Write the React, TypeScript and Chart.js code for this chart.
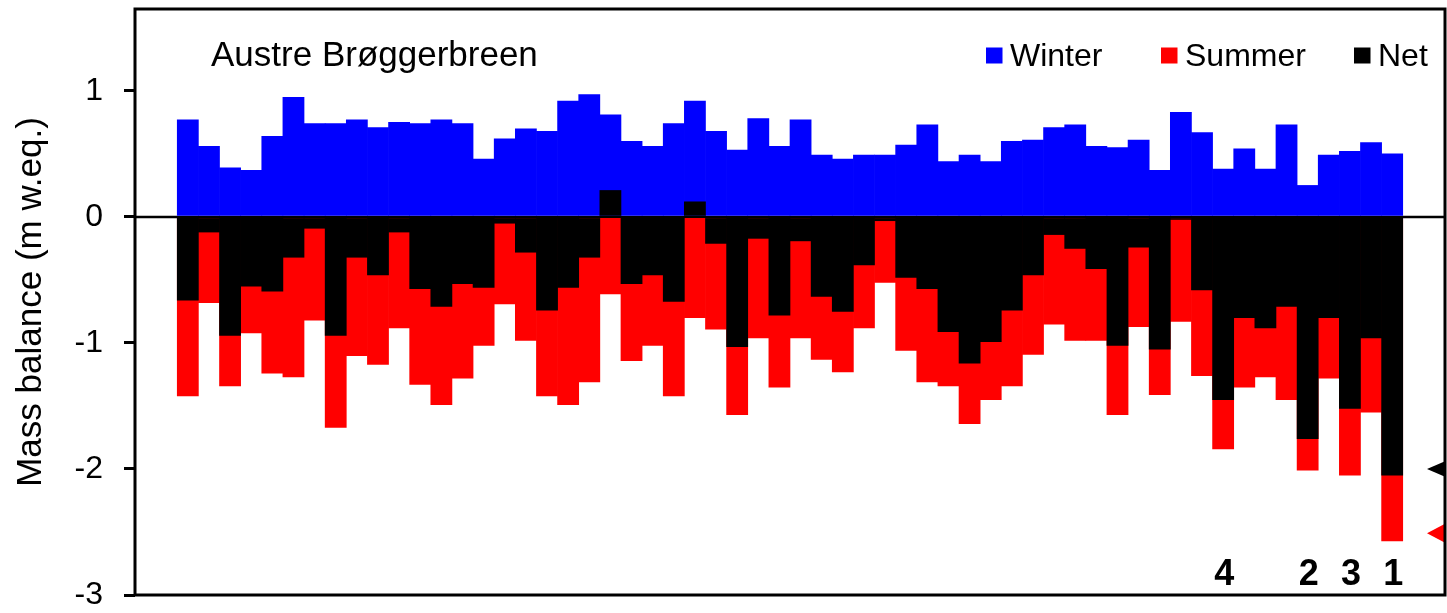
import React, { useEffect, useRef } from "react";
import { Chart, registerables } from "chart.js";

Chart.register(...registerables);

const years = [
  1967, 1968, 1969, 1970, 1971, 1972, 1973, 1974, 1975, 1976,
  1977, 1978, 1979, 1980, 1981, 1982, 1983, 1984, 1985, 1986,
  1987, 1988, 1989, 1990, 1991, 1992, 1993, 1994, 1995, 1996,
  1997, 1998, 1999, 2000, 2001, 2002, 2003, 2004, 2005, 2006,
  2007, 2008, 2009, 2010, 2011, 2012, 2013, 2014, 2015, 2016,
  2017, 2018, 2019, 2020, 2021, 2022, 2023, 2024,
];

const winter = [
  0.77, 0.56, 0.39, 0.37, 0.64, 0.95, 0.74, 0.74, 0.77, 0.71,
  0.75, 0.74, 0.77, 0.74, 0.46, 0.62, 0.70, 0.68, 0.92, 0.97,
  0.81, 0.60, 0.56, 0.74, 0.92, 0.68, 0.53, 0.78, 0.56, 0.77,
  0.49, 0.46, 0.49, 0.49, 0.57, 0.73, 0.44, 0.49, 0.44, 0.60,
  0.61, 0.71, 0.73, 0.56, 0.55, 0.61, 0.37, 0.83, 0.67, 0.38,
  0.54, 0.38, 0.73, 0.25, 0.49, 0.52, 0.59, 0.50,
];

const summer = [
  -1.42, -0.68, -1.34, -0.92, -1.24, -1.27, -0.82, -1.67, -1.10, -1.17,
  -0.88, -1.33, -1.49, -1.28, -1.02, -0.69, -0.98, -1.42, -1.49, -1.31,
  -0.61, -1.14, -1.02, -1.42, -0.80, -0.89, -1.57, -0.96, -1.35, -0.96,
  -1.13, -1.23, -0.88, -0.52, -1.06, -1.31, -1.34, -1.64, -1.45, -1.34,
  -1.09, -0.85, -0.98, -0.98, -1.57, -0.87, -1.41, -0.83, -1.26, -1.84,
  -1.35, -1.27, -1.45, -2.01, -1.28, -2.05, -1.55, -2.57,
];

const net = [
  -0.66, -0.12, -0.94, -0.55, -0.59, -0.32, -0.09, -0.94, -0.32, -0.46,
  -0.12, -0.57, -0.71, -0.53, -0.56, -0.05, -0.28, -0.74, -0.56, -0.32,
  0.21, -0.53, -0.46, -0.67, 0.12, -0.21, -1.03, -0.17, -0.78, -0.19,
  -0.63, -0.75, -0.38, -0.03, -0.48, -0.57, -0.91, -1.16, -0.99, -0.74,
  -0.46, -0.14, -0.25, -0.41, -1.02, -0.24, -1.05, -0.02, -0.58, -1.45,
  -0.80, -0.88, -0.71, -1.76, -0.80, -1.52, -0.96, -2.05,
];

const yTicks = [-3, -2, -1, 0, 1];
const seriesNames = ["Winter", "Summer", "Net"];
const seriesColors = ["#0000ff", "#ff0000", "#000000"];
const rankYears = [2016, 2020, 2022, 2024];
const rankLabels = ["4", "2", "3", "1"];
const markerValues = [-2.0, -2.51];
const markerColors = ["#000000", "#ff0000"];
const chartTitle = "Austre Brøggerbreen";
const yTitle = "Mass balance (m w.eq.)";

const FONT = '"Liberation Sans", Arial, Helvetica, sans-serif';

const overlayPlugin = {
  id: "overlay",
  beforeDatasetsDraw(chart: any) {
    const { ctx, chartArea: a, scales } = chart;
    const y0 = scales.y.getPixelForValue(0);
    ctx.save();
    ctx.strokeStyle = "#000";
    ctx.lineWidth = 2.5;
    ctx.beginPath();
    ctx.moveTo(a.left, y0);
    ctx.lineTo(a.right, y0);
    ctx.stroke();
    ctx.restore();
  },
  afterDatasetsDraw(chart: any) {
    const { ctx, chartArea: a, scales } = chart;
    const xs = scales.x;
    const ys = scales.y;
    ctx.save();
    ctx.beginPath();
    ctx.rect(a.left, a.top, a.right - a.left, a.bottom - a.top);
    ctx.clip();
    markerValues.forEach((v, i) => {
      const py = ys.getPixelForValue(v);
      const h = i === 0 ? 8.5 : 10.5;
      ctx.fillStyle = markerColors[i];
      ctx.beginPath();
      ctx.moveTo(a.right - 18, py);
      ctx.lineTo(a.right + 2, py - h);
      ctx.lineTo(a.right + 2, py + h);
      ctx.closePath();
      ctx.fill();
    });
    ctx.restore();

    ctx.save();
    ctx.fillStyle = "#000";
    ctx.textBaseline = "alphabetic";
    ctx.textAlign = "center";
    ctx.font = `bold 36px ${FONT}`;
    rankYears.forEach((yr, i) => {
      ctx.fillText(rankLabels[i], xs.getPixelForValue(yr) + 1, a.bottom - 10);
    });

    ctx.textAlign = "left";
    ctx.font = `35px ${FONT}`;
    ctx.fillText(chartTitle, a.left + 76, a.top + 56.5);

    const legendX = [851, 1026, 1219];
    ctx.font = `32px ${FONT}`;
    seriesNames.forEach((name, i) => {
      const lx = a.left + legendX[i];
      ctx.fillStyle = seriesColors[i];
      ctx.fillRect(lx, a.top + 38.5, 16.5, 16);
      ctx.fillStyle = "#000";
      ctx.fillText(name, lx + 24, a.top + 56.5);
    });
    ctx.restore();
  },
  afterDraw(chart: any) {
    const { ctx, chartArea: a } = chart;
    ctx.save();
    ctx.strokeStyle = "#000";
    ctx.lineWidth = 3;
    ctx.strokeRect(a.left, a.top, a.right - a.left, a.bottom - a.top);
    ctx.restore();
  },
};

export default function App() {
  const canvasRef = useRef<HTMLCanvasElement | null>(null);

  useEffect(() => {
    document.body.style.margin = "0";
    const canvas = canvasRef.current;
    if (!canvas) return;
    const toPts = (vals: number[]) => years.map((yr, i) => ({ x: yr, y: vals[i] }));
    const common = {
      grouped: false,
      barPercentage: 1,
      categoryPercentage: 1,
      borderWidth: 0,
    };
    const chart = new Chart(canvas, {
      type: "bar",
      data: {
        datasets: [
          { label: seriesNames[0], data: toPts(winter), backgroundColor: seriesColors[0], order: 3, ...common },
          { label: seriesNames[1], data: toPts(summer), backgroundColor: seriesColors[1], order: 2, ...common },
          { label: seriesNames[2], data: toPts(net), backgroundColor: seriesColors[2], order: 1, ...common },
        ] as any,
      },
      options: {
        animation: false,
        responsive: true,
        maintainAspectRatio: false,
        events: [],
        layout: { padding: { left: 0, right: 2, top: 9, bottom: 18 } },
        plugins: {
          legend: { display: false },
          tooltip: { enabled: false },
          title: { display: false },
        },
        scales: {
          x: {
            type: "linear",
            min: 1964.5,
            max: 2026.5,
            offset: false,
            display: false,
          },
          y: {
            min: -3,
            max: 1.65,
            afterBuildTicks: (s: any) => {
              s.ticks = yTicks.map((v) => ({ value: v }));
            },
            afterFit: (s: any) => {
              s.width = 135;
              s.paddingTop = 0;
              s.paddingBottom = 0;
            },
            ticks: {
              font: { family: FONT, size: 32 },
              color: "#000",
              padding: 21,
              callback: (v: any) => String(v),
            },
            grid: {
              drawOnChartArea: false,
              drawTicks: true,
              tickLength: 11,
              color: "#000",
              lineWidth: 3,
            },
            border: { display: false },
            title: {
              display: true,
              text: yTitle,
              font: { family: FONT, size: 35 },
              color: "#000",
              padding: { top: 10, bottom: 0 },
            },
          },
        } as any,
      },
      plugins: [overlayPlugin],
    });
    return () => chart.destroy();
  }, []);

  return (
    <div style={{ width: 1447, height: 613, position: "relative" }}>
      <canvas ref={canvasRef} />
    </div>
  );
}
